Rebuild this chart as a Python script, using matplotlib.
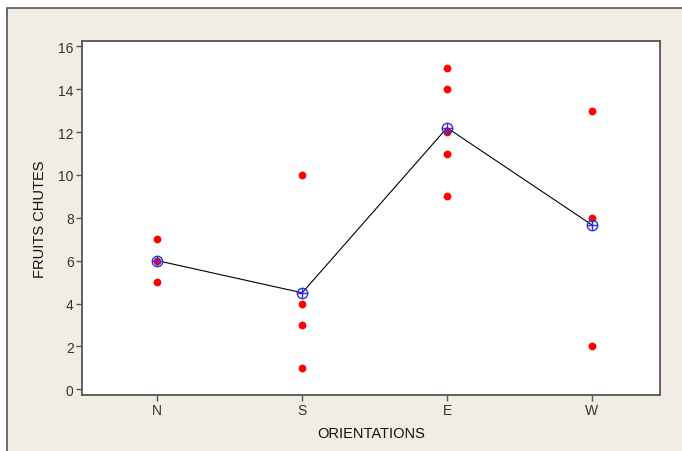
import matplotlib
matplotlib.use("Agg")
import matplotlib.pyplot as plt
import matplotlib.patches as mpatches
import numpy as np

# fallen fruit counts per tree orientation
orientations = ["N", "S", "E", "W"]
values_n = [7, 6, 5]
values_s = [10, 4, 3, 1]
values_e = [15, 14, 12, 11, 9]
values_w = [13, 8, 2]
groups = [values_n, values_s, values_e, values_w]

y_ticks = [0, 2, 4, 6, 8, 10, 12, 14, 16]

W, H = 682, 452
fig = plt.figure(figsize=(W / 100, H / 100), dpi=100, facecolor="white")

# panel background with border running off the right/bottom edges
panel = mpatches.Rectangle((7 / W, 0 - 0.05), 1.0, (H - 9) / H + 0.05,
                           transform=fig.transFigure, facecolor="#f1ede4",
                           edgecolor="#555555", linewidth=1.2, zorder=-10)
fig.patches.append(panel)

left, right, top, bottom = 82, 660, 42, 396
ax = fig.add_axes([left / W, 1 - bottom / H, (right - left) / W, (bottom - top) / H])
ax.set_facecolor("white")

font = ["Liberation Sans Narrow", "Liberation Sans", "DejaVu Sans"]

x = np.arange(len(orientations))
means = [np.mean(g) for g in groups]

for i, g in enumerate(groups):
    ax.plot([i] * len(g), g, linestyle="none", marker="o", markersize=5.6,
            color="#ff0000", markeredgewidth=0, zorder=3)

ax.plot(x, means, color="black", linewidth=0.8, zorder=2)
ax.plot(x, means, linestyle="none", marker="o", markersize=7.5, fillstyle="none",
        markeredgecolor="#3030e0", markeredgewidth=1.0, zorder=4)
ax.plot(x, means, linestyle="none", marker="+", markersize=7.5,
        markeredgecolor="#3030e0", markeredgewidth=1.0, zorder=4)

ax.set_xlim(-0.52, 3.47)
ax.set_ylim(-0.27, 16.25)
ax.set_xticks(x)
ax.set_xticklabels(orientations, family=font, fontsize=10, color="#333333")
ax.set_yticks(y_ticks)
ax.set_yticklabels([str(t) for t in y_ticks], family=font, fontsize=10, color="#333333")
ax.tick_params(direction="out", length=4, width=1, color="#555555", pad=2)

for s in ax.spines.values():
    s.set_color("#555555")
    s.set_linewidth(1.3)

ax.set_xlabel("ORIENTATIONS", family=font, fontsize=10.5, color="#111111", labelpad=6)
ax.set_ylabel("FRUITS CHUTES", family=font, fontsize=10.5, color="#111111", labelpad=8)

fig.savefig("out.png", dpi=100)
